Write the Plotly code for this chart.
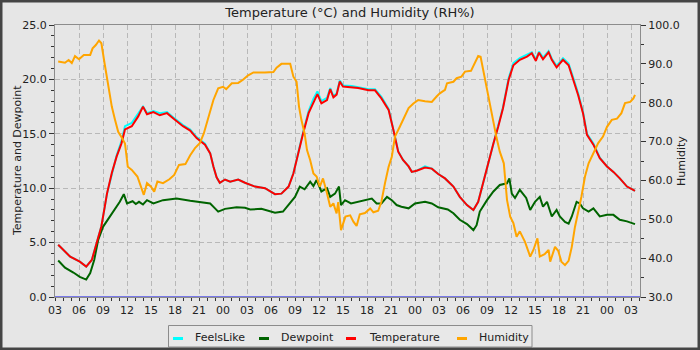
import pandas as pd
import plotly.graph_objects as go

# ---- data: hours elapsed since 03:00 on the first day, and readings ----
temp_hours = [0.4, 1.9, 3.1, 3.9, 4.6, 5.2, 5.8, 6.5, 7.1, 7.7, 8.3, 8.75, 9.6, 10.4, 11.0, 11.5,
              12.3, 13.1, 14.0, 14.8, 16.0, 16.9, 17.7, 18.75, 19.4, 19.8, 20.2, 20.6, 21.25, 21.9,
              22.9, 23.75, 25.0, 26.25, 27.5, 28.3, 29.2, 29.8, 30.4, 31.0, 31.7, 32.3, 32.8, 33.3,
              34.0, 34.4, 34.8, 35.2, 35.6, 36.0, 37.1, 37.9, 39.2, 40.0, 40.8, 41.7, 42.3, 42.9,
              43.5, 44.2, 44.6, 45.2, 46.25, 47.1, 47.9, 48.75, 49.8, 50.6, 51.5, 52.3, 52.9, 53.5,
              54.2, 54.8, 55.4, 56.0, 56.7, 57.3, 58.1, 59.0, 59.6, 60.1, 60.5, 61.0, 61.7, 62.1,
              62.7, 63.5, 64.2, 64.8, 65.4, 66.0, 66.5, 67.3, 68.1, 69.0, 69.8, 70.6, 71.5, 72.5]
temperature = [4.8, 3.7, 3.25, 2.8, 3.4, 5.0, 6.5, 9.5, 11.4, 12.9, 14.1, 15.4, 15.7, 16.6, 17.5, 16.8,
               17.0, 16.7, 16.9, 16.4, 15.7, 15.3, 14.6, 14.0, 13.2, 12.0, 11.0, 10.5, 10.8, 10.6,
               10.8, 10.5, 10.15, 10.0, 9.45, 9.5, 10.15, 11.35, 13.2, 15.0, 16.9, 17.95, 18.65, 17.8,
               18.1, 19.1, 18.35, 18.6, 19.8, 19.35, 19.3, 19.2, 19.0, 19.0, 18.25, 17.2, 15.35, 13.35,
               12.6, 12.0, 11.5, 11.6, 11.9, 11.8, 11.3, 10.9, 10.15, 9.2, 8.45, 8.0, 8.75, 10.45,
               12.6, 14.1, 15.65, 17.35, 19.95, 21.3, 21.8, 22.1, 22.4, 21.7, 22.45, 21.85, 22.5, 21.8,
               21.1, 21.8, 21.3, 19.95, 18.55, 16.9, 14.9, 14.0, 12.75, 12.0, 11.5, 10.9, 10.15, 9.75]
feels_like = [4.8, 3.7, 3.25, 2.8, 3.4, 5.0, 6.5, 9.5, 11.4, 13.0, 14.3, 15.7, 16.0, 16.8, 17.5, 16.9,
              17.1, 16.9, 17.0, 16.5, 15.8, 15.4, 14.7, 14.1, 13.2, 12.0, 11.0, 10.5, 10.8, 10.6,
              10.8, 10.5, 10.15, 10.0, 9.45, 9.5, 10.15, 11.4, 13.3, 15.1, 17.1, 18.2, 18.9, 18.0,
              18.3, 19.2, 18.5, 18.7, 19.9, 19.45, 19.4, 19.3, 19.1, 19.1, 18.4, 17.3, 15.45, 13.4,
              12.6, 12.0, 11.5, 11.6, 12.0, 11.8, 11.3, 10.9, 10.15, 9.2, 8.45, 8.0, 8.75, 10.45,
              12.6, 14.15, 15.75, 17.45, 20.1, 21.5, 21.95, 22.25, 22.5, 21.85, 22.55, 22.0, 22.6, 21.9,
              21.25, 21.95, 21.45, 20.1, 18.7, 17.0, 15.0, 14.1, 12.8, 12.0, 11.5, 10.9, 10.15, 9.75]

dew_hours = [0.4, 1.25, 2.3, 3.1, 3.9, 4.4, 4.9, 5.4, 6.0, 6.7, 7.5, 8.1, 8.6, 9.0, 9.7, 10.1, 10.5,
             11.0, 11.5, 12.3, 13.5, 15.2, 16.9, 18.1, 19.4, 20.0, 20.4, 21.25, 22.7, 23.75, 24.4,
             25.8, 26.7, 27.5, 28.5, 29.2, 30.0, 30.6, 31.2, 31.9, 32.3, 32.7, 33.3, 34.0, 34.4,
             35.0, 35.5, 35.75, 36.25, 37.0, 38.0, 38.8, 39.6, 40.2, 40.8, 41.5, 42.1, 42.7, 43.3,
             44.2, 45.0, 46.25, 47.1, 47.9, 49.1, 49.8, 50.6, 51.5, 52.3, 52.7, 53.1, 54.0, 54.8,
             55.6, 56.5, 56.8, 57.1, 57.5, 58.1, 58.9, 59.4, 60.0, 60.6, 61.0, 61.5, 62.1, 62.7,
             63.1, 63.75, 64.2, 64.6, 65.2, 65.6, 66.0, 66.7, 67.3, 68.1, 69.0, 69.8, 70.6, 71.5, 72.5]
dewpoint = [3.35, 2.7, 2.25, 1.85, 1.6, 2.2, 3.4, 5.25, 6.45, 7.2, 8.15, 8.75, 9.45, 8.6, 8.8, 8.55, 8.75,
            8.5, 8.9, 8.6, 8.9, 9.05, 8.85, 8.75, 8.6, 8.15, 7.85, 8.1, 8.25, 8.2, 8.05,
            8.1, 7.95, 7.75, 7.85, 8.45, 9.2, 10.15, 9.9, 10.6, 10.2, 10.75, 9.7, 10.0, 9.2,
            9.5, 10.15, 8.45, 8.9, 8.6, 8.75, 8.9, 9.05, 8.6, 8.6, 9.2, 8.9, 8.45, 8.3,
            8.15, 8.6, 8.75, 8.6, 8.25, 8.05, 7.7, 7.1, 6.7, 6.15, 6.6, 7.85, 8.9, 9.7,
            10.3, 10.45, 10.9, 9.5, 9.1, 9.85, 9.1, 8.0, 8.75, 9.2, 8.3, 8.75, 7.4, 8.0,
            7.4, 6.9, 6.75, 7.4, 8.75, 8.6, 8.15, 7.85, 8.15, 7.4, 7.55, 7.55, 7.1, 6.95, 6.7]

hum_hours = [0.4, 1.25, 1.7, 2.1, 2.5, 3.0, 3.6, 4.4, 4.7, 5.1, 5.5, 5.8, 6.2, 6.7, 7.1, 7.5, 7.9,
             8.3, 8.75, 9.1, 9.6, 10.3, 10.75, 11.1, 11.5, 12.0, 12.4, 12.8, 13.5, 14.3, 14.9,
             15.5, 16.3, 16.9, 17.5, 18.1, 18.6, 19.0, 19.4, 19.8, 20.4, 21.0, 21.4, 22.1, 22.9,
             23.5, 24.1, 24.8, 26.25, 27.3, 27.7, 28.3, 29.4, 29.8, 30.2, 30.5, 30.8, 31.2, 31.5,
             31.9, 32.3, 32.7, 33.1, 33.5, 34.0, 34.4, 34.8, 35.2, 35.4, 35.75, 36.3, 36.9, 37.3,
             37.7, 38.1, 38.75, 39.4, 39.8, 40.4, 40.8, 41.25, 41.7, 42.1, 42.5, 43.1, 43.75, 44.2,
             44.8, 45.4, 46.25, 47.1, 47.7, 48.1, 48.75, 49.0, 49.8, 50.2, 50.8, 51.25, 52.0, 52.5,
             52.9, 53.2, 53.6, 53.9, 54.4, 54.8, 55.2, 55.6, 56.1, 56.5, 56.9, 57.3, 57.7, 58.1,
             58.75, 59.4, 59.8, 60.3, 60.6, 61.2, 61.7, 61.9, 62.5, 62.9, 63.3, 63.75, 64.2, 64.6,
             65.0, 65.8, 66.25, 66.7, 67.3, 67.9, 68.5, 69.0, 69.6, 70.25, 70.8, 71.25, 71.9, 72.3, 72.5]
humidity = [90.6, 90.3, 91.0, 90.2, 92.0, 91.2, 92.3, 92.3, 94.0, 94.85, 96.0, 95.3, 90.1, 84.1, 79.0, 75.6, 72.5,
            71.2, 69.5, 63.5, 62.7, 61.0, 58.0, 56.3, 59.3, 58.4, 57.1, 59.7, 59.3, 60.3, 61.4,
            64.0, 64.2, 66.5, 68.3, 69.6, 72.1, 75.1, 78.1, 80.7, 83.7, 84.1, 83.5, 85.0, 85.1,
            85.9, 87.0, 87.8, 87.8, 87.9, 89.0, 90.0, 90.0, 86.7, 85.4, 79.0, 75.6, 72.1, 67.8,
            65.2, 61.8, 61.0, 58.4, 60.5, 56.7, 53.2, 54.1, 51.5, 54.4, 47.2, 50.7, 51.0, 49.4,
            48.3, 51.3, 51.6, 52.8, 51.8, 52.2, 54.5, 59.3, 63.5, 66.1, 71.3, 73.8, 76.4, 78.6,
            79.8, 80.7, 80.4, 80.2, 81.6, 82.4, 83.3, 85.0, 85.4, 86.3, 86.7, 88.0, 88.2, 90.1,
            92.0, 91.8, 87.6, 84.1, 79.0, 74.7, 70.9, 67.4, 64.4, 55.0, 50.7, 49.0, 45.5, 46.9,
            44.2, 40.4, 42.1, 45.1, 40.4, 41.0, 42.1, 39.1, 42.9, 41.9, 39.1, 38.2, 39.3, 42.9,
            48.1, 55.8, 61.0, 64.4, 67.0, 69.6, 71.3, 73.8, 75.6, 75.9, 77.3, 79.9, 80.2, 81.1, 82.0]

series_names = ["FeelsLike", "Dewpoint", "Temperature", "Humidity"]
series_colors = ["#00ffff", "#006400", "#ff0000", "#ffa500"]
left_title = "Temperature and Dewpoint"
right_title = "Humidity"

start = pd.Timestamp("2024-05-14 03:00")


def to_time(hours):
    return start + pd.to_timedelta(hours, unit="h")


# ---- figure geometry (pixels) ----
W, H = 700, 350
ML, MR, MT, MB = 55, 60, 25, 53
PW, PH = W - ML - MR, H - MT - MB
HOURS_SPAN = PW / 8.0  # 8 px per hour


def px(xp):
    return (xp - ML) / PW


def py(yp):
    return (H - MB - yp) / PH


BG = "#e6e6e6"
FONT = "DejaVu Sans, sans-serif"
TEXT = "#222222"

fig = go.Figure()
fig.add_trace(go.Scatter(x=to_time(temp_hours), y=feels_like, name=series_names[0],
                         mode="lines", line=dict(color=series_colors[0], width=2)))
fig.add_trace(go.Scatter(x=to_time(dew_hours), y=dewpoint, name=series_names[1],
                         mode="lines", line=dict(color=series_colors[1], width=2)))
fig.add_trace(go.Scatter(x=to_time(temp_hours), y=temperature, name=series_names[2],
                         mode="lines", line=dict(color=series_colors[2], width=2)))
fig.add_trace(go.Scatter(x=to_time(hum_hours), y=humidity, name=series_names[3], yaxis="y2",
                         mode="lines", line=dict(color=series_colors[3], width=2)))

axis_common = dict(
    showline=True, linecolor="#8c8c8c", linewidth=1,
    ticks="outside", tickcolor="#333", tickwidth=1,
    tickfont=dict(family=FONT, size=11, color=TEXT),
    zeroline=False,
)

fig.update_layout(
    width=W, height=H,
    margin=dict(l=ML, r=MR, t=MT, b=MB),
    paper_bgcolor=BG, plot_bgcolor=BG,
    showlegend=False,
    font=dict(family=FONT, size=11, color=TEXT),
    title=dict(text="Temperature (°C) and Humidity (RH%)", x=0.5, xanchor="center",
               y=1 - 12 / H, yanchor="middle", yref="container",
               font=dict(family=FONT, size=13, color=TEXT)),
    xaxis=dict(
        **axis_common,
        type="date",
        range=[start, start + pd.Timedelta(hours=HOURS_SPAN)],
        dtick=3 * 3600 * 1000, tickformat="%H", ticklen=3,
        mirror=True,
        showgrid=True, gridcolor="#b8b8b8", griddash="5px,3px", gridwidth=1,
        minor=dict(dtick=3600 * 1000, ticklen=3, tickcolor="#333", ticks="outside", showgrid=False),
    ),
    yaxis=dict(
        **axis_common,
        range=[0, 25], dtick=5, tickformat=".1f", ticklen=5,
        showgrid=True, gridcolor="#b8b8b8", griddash="5px,3px", gridwidth=1,
        minor=dict(dtick=1, ticklen=3, tickcolor="#333", ticks="outside", showgrid=False),
    ),
    yaxis2=dict(
        **axis_common,
        overlaying="y", side="right",
        range=[30, 100], dtick=10, tickformat=".1f", ticklen=5,
        showgrid=False,
        minor=dict(dtick=5, ticklen=3, tickcolor="#333", ticks="outside", showgrid=False),
    ),
)

shapes = []
# baseline at zero
shapes.append(dict(type="line", xref="paper", yref="y", x0=0, x1=1, y0=0, y1=0,
                   line=dict(color="#7878e8", width=2), layer="above"))
# outer frame
shapes.append(dict(type="rect", xref="paper", yref="paper",
                   x0=px(0), x1=px(W), y0=py(H), y1=py(0),
                   line=dict(color="#444444", width=5), fillcolor="rgba(0,0,0,0)"))
# legend box
shapes.append(dict(type="rect", xref="paper", yref="paper",
                   x0=px(168.5), x1=px(532), y0=py(347), y1=py(325.5),
                   line=dict(color="#8c8c8c", width=1), fillcolor="#e8e8e8", layer="below"))

annotations = []
# axis titles
annotations.append(dict(text=left_title, xref="paper", yref="paper", x=px(17), y=py(161),
                        xanchor="center", yanchor="middle", textangle=-90, showarrow=False,
                        font=dict(family=FONT, size=11, color=TEXT)))
annotations.append(dict(text=right_title, xref="paper", yref="paper", x=px(681), y=py(161),
                        xanchor="center", yanchor="middle", textangle=-90, showarrow=False,
                        font=dict(family=FONT, size=11, color=TEXT)))

legend_line_x = [173, 259, 346, 457]
legend_text_x = [193, 279, 367, 477]
for name, color, lx, tx in zip(series_names, series_colors, legend_line_x, legend_text_x):
    shapes.append(dict(type="line", xref="paper", yref="paper",
                       x0=px(lx), x1=px(lx + 10), y0=py(338.5), y1=py(338.5),
                       line=dict(color=color, width=3)))
    annotations.append(dict(text=name, xref="paper", yref="paper", x=px(tx), y=py(337),
                            xanchor="left", yanchor="middle", showarrow=False,
                            font=dict(family=FONT, size=11, color=TEXT)))

fig.update_layout(shapes=shapes, annotations=annotations)

fig.write_html("out.html")
